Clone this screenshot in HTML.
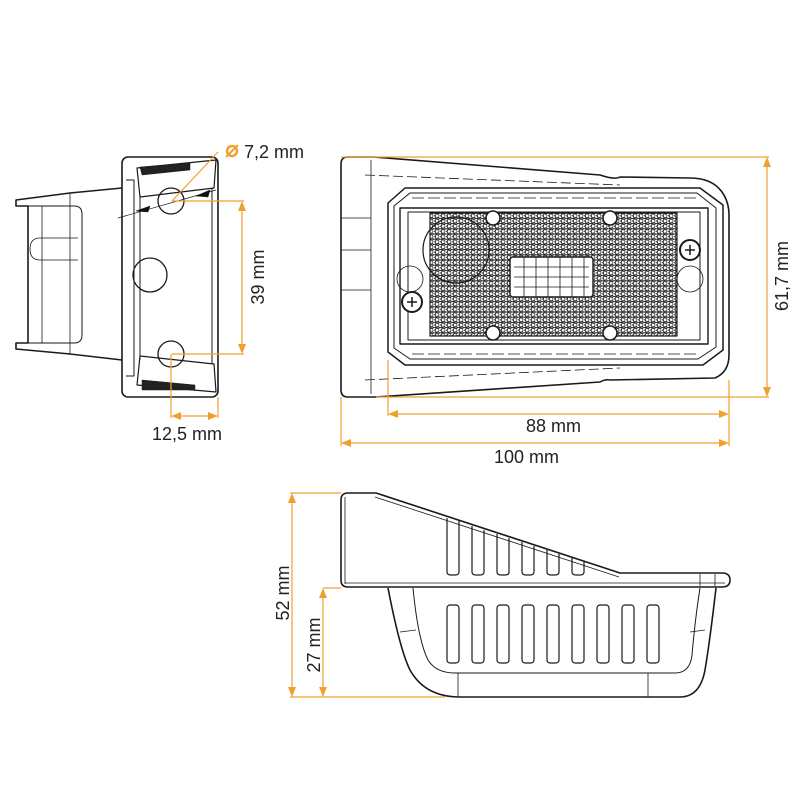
<!DOCTYPE html>
<html><head><meta charset="utf-8"><style>
html,body{margin:0;padding:0;background:#fff;}
svg{display:block;}
text{font-family:"Liberation Sans",sans-serif;fill:#222;}
</style></head><body>
<svg width="800" height="800" viewBox="0 0 800 800" xmlns="http://www.w3.org/2000/svg">
<defs>
<pattern id="hex" width="6" height="5.2" patternUnits="userSpaceOnUse">
<rect width="6" height="5.2" fill="#fff"/>
<path d="M0,1.3 L1.5,0 L4.5,0 L6,1.3 M0,3.9 L1.5,5.2 L4.5,5.2 L6,3.9 M1.5,0 L0,1.3 L0,3.9 M3,2.6 L4.5,0 M3,2.6 L4.5,5.2 M3,2.6 L1.5,2.6" stroke="#222" stroke-width="1" fill="none"/>
</pattern>
</defs>
<g fill="none" stroke="#1a1a1a" stroke-width="1.6" stroke-linejoin="round">
<!-- LEFT VIEW -->
<path d="M122,188 L70,193 L16,200 L16,206 L28,206 L28,343 L16,343 L16,349 L70,354 L122,360"/>
<path d="M70,193 L70,354" stroke-width="0.8"/>
<path d="M28,206 L74,206 Q82,206 82,214 L82,335 Q82,343 74,343 L28,343" stroke-width="1"/>
<path d="M42,206 L42,343" stroke-width="0.8"/>
<path d="M40,238 L78,238 M40,260 L78,260 M30,249 Q30,238 40,238 M30,249 Q30,260 40,260" stroke-width="0.8"/>
<rect x="122" y="157" width="96" height="240" rx="6"/>
<path d="M126,180 L134,180 L134,376 L126,376" stroke-width="1"/>
<path d="M137,168 L216,160 L214,188 L140,197 Z" stroke-width="1.2"/>
<path d="M140,167 L190,163 L190,170 L142,175 Z" fill="#222" stroke-width="0.5"/>
<path d="M137,385 L216,392 L214,364 L140,356 Z" stroke-width="1.2"/>
<path d="M142,380 L195,385 L195,390 L142,390 Z" fill="#222" stroke-width="0.5"/>
<path d="M140,195 L140,360 M212,188 L212,364" stroke-width="1"/>
<circle cx="171" cy="201" r="13" stroke-width="1.3"/>
<circle cx="150" cy="275" r="17" stroke-width="1.3"/>
<circle cx="171" cy="354" r="13" stroke-width="1.3"/>
<path d="M118,218 L216,190" stroke-width="0.7"/>
<path d="M136,211 L150,206 L148,212 Z M196,196 L210,190 L208,197 Z" fill="#111" stroke-width="0.5"/>
<!-- FRONT VIEW -->
<path d="M348,157 L374,157 L600,175 Q615,180 620,177 L690,178 Q712,178 722,192 Q729,202 729,215 L729,355 Q729,372 715,378 L610,380 Q605,379 600,382 L376,397 L348,397 Q341,397 341,390 L341,164 Q341,157 348,157 Z"/>
<path d="M371,160 L371,394" stroke-width="0.8"/>
<path d="M341,218 L371,218 M341,250 L371,250 M341,290 L371,290" stroke-width="0.8"/>
<path d="M365,175 L620,185 M365,380 L620,368" stroke-width="0.8" stroke-dasharray="10 4"/>
<path d="M405,188 L700,188 L723,205 L723,350 L703,365 L405,365 L388,352 L388,203 Z" stroke-width="1.5"/>
<path d="M410,193 L697,193 L716,208 L716,347 L698,359 L410,359 L394,348 L394,206 Z" stroke-width="1"/>
<path d="M412,198 L696,198 M412,354 L696,354" stroke-width="0.8" stroke-dasharray="12 4"/>
<rect x="400" y="208" width="308" height="136" stroke-width="1.4"/>
<rect x="408" y="212" width="292" height="128" stroke-width="1"/>
<rect x="430" y="213" width="247" height="123" fill="url(#hex)" stroke-width="1.2"/>
<circle cx="456" cy="250" r="33" stroke-width="1.2"/>
<rect x="510" y="257" width="83" height="40" rx="3" fill="#fff" stroke-width="1.4"/>
<path d="M514,267 H589 M514,277 H589 M514,287 H589 M524,257 V297 M536,257 V297 M548,257 V297 M560,257 V297 M572,257 V297 M584,257 V297" stroke-width="0.8"/>
<circle cx="410" cy="279" r="13" stroke-width="0.8"/>
<circle cx="690" cy="279" r="13" stroke-width="0.8"/>
<circle cx="493" cy="218" r="7" fill="#fff"/>
<circle cx="610" cy="218" r="7" fill="#fff"/>
<circle cx="493" cy="333" r="7" fill="#fff"/>
<circle cx="610" cy="333" r="7" fill="#fff"/>
<circle cx="690" cy="250" r="10" fill="#fff" stroke-width="2"/>
<circle cx="412" cy="302" r="10" fill="#fff" stroke-width="2"/>
<path d="M685,250 H695 M690,245 V255 M407,302 H417 M412,297 V307" stroke-width="1.5"/>
<!-- SIDE VIEW -->
<path d="M348,493 L376,493 L620,573 L722,573 Q730,573 730,580 Q730,587 722,587 L348,587 Q341,587 341,580 L341,500 Q341,493 348,493 Z"/>
<path d="M345,497 L345,584 M375,497 L619,577 M345,583 L725,583 M700,574 L700,586 M715,574 L715,586" stroke-width="0.8"/>
<g stroke-width="1.2">
<path d="M447,518 L447,572 Q447,575 451,575 L455,575 Q459,575 459,572 L459,521"/>
<path d="M472,526 L472,572 Q472,575 476,575 L480,575 Q484,575 484,572 L484,530"/>
<path d="M497,534 L497,572 Q497,575 501,575 L505,575 Q509,575 509,572 L509,538"/>
<path d="M522,542 L522,572 Q522,575 526,575 L530,575 Q534,575 534,572 L534,546"/>
<path d="M547,550 L547,572 Q547,575 551,575 L555,575 Q559,575 559,572 L559,554"/>
<path d="M572,558 L572,572 Q572,575 576,575 L580,575 Q584,575 584,572 L584,562"/>
</g>
<path d="M388,588 Q400,650 410,670 Q425,697 460,697 L680,697 Q700,697 705,670 Q710,640 716,588"/>
<path d="M413,588 Q418,640 428,660 Q436,673 455,673 L675,673 Q690,673 692,655 Q695,620 700,588" stroke-width="1"/>
<path d="M400,632 L416,630 M705,630 L690,632 M458,673 L458,697 M648,673 L648,697" stroke-width="0.8"/>
<g stroke-width="1.2">
<rect x="447" y="605" width="12" height="58" rx="3"/>
<rect x="472" y="605" width="12" height="58" rx="3"/>
<rect x="497" y="605" width="12" height="58" rx="3"/>
<rect x="522" y="605" width="12" height="58" rx="3"/>
<rect x="547" y="605" width="12" height="58" rx="3"/>
<rect x="572" y="605" width="12" height="58" rx="3"/>
<rect x="597" y="605" width="12" height="58" rx="3"/>
<rect x="622" y="605" width="12" height="58" rx="3"/>
<rect x="647" y="605" width="12" height="58" rx="3"/>
</g>
</g>
<!-- DIMENSIONS -->
<g stroke="#f0a030" stroke-width="1.2" fill="none">
<path d="M218,152 L172,201 M172,201 L244,201 M172,354 L244,354 M242,203 L242,352"/>
<path d="M171,354 L171,418 M218,397 L218,418 M173,416 L216,416"/>
<path d="M341,157 L769,157 M376,397 L769,397 M767,160 L767,394"/>
<path d="M388,360 L388,416 M729,380 L729,446 M341,397 L341,446 M390,414 L727,414 M343,443 L727,443"/>
<path d="M290,493 L341,493 M323,588 L341,588 M290,697 L445,697 M292,496 L292,694 M323,591 L323,694"/>
</g>
<g fill="#f0a030">
<path d="M242,201 L238,211 L246,211 Z M242,354 L238,344 L246,344 Z"/>
<path d="M171,416 L181,412 L181,420 Z M218,416 L208,412 L208,420 Z"/>
<path d="M767,157 L763,167 L771,167 Z M767,397 L763,387 L771,387 Z"/>
<path d="M388,414 L398,410 L398,418 Z M729,414 L719,410 L719,418 Z"/>
<path d="M341,443 L351,439 L351,447 Z M729,443 L719,439 L719,447 Z"/>
<path d="M292,493 L288,503 L296,503 Z M292,697 L288,687 L296,687 Z"/>
<path d="M323,588 L319,598 L327,598 Z M323,697 L319,687 L327,687 Z"/>
</g>
<circle cx="232" cy="151" r="5" fill="none" stroke="#f0a030" stroke-width="2.5"/>
<path d="M226,157 L238,145" stroke="#f0a030" stroke-width="2"/>
<g font-size="18">
<text x="244" y="158">7,2 mm</text>
<text x="152" y="440">12,5 mm</text>
<text x="526" y="432">88 mm</text>
<text x="494" y="463">100 mm</text>
<text transform="translate(264,277) rotate(-90)" text-anchor="middle">39 mm</text>
<text transform="translate(788,276) rotate(-90)" text-anchor="middle">61,7 mm</text>
<text transform="translate(289,593) rotate(-90)" text-anchor="middle">52 mm</text>
<text transform="translate(320,645) rotate(-90)" text-anchor="middle">27 mm</text>
</g>
</svg>
</body></html>
